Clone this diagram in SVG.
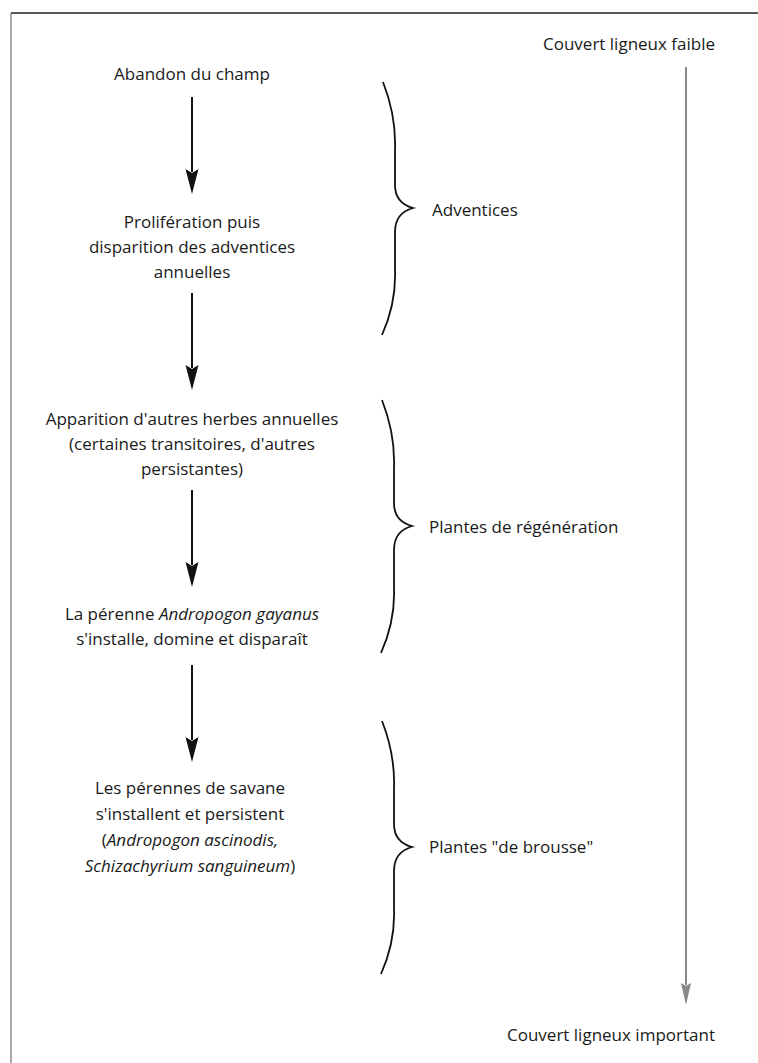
<svg xmlns="http://www.w3.org/2000/svg" xmlns:xlink="http://www.w3.org/1999/xlink" width="758" height="1063" viewBox="0 0 758 1063">
<style>
text{font-family:"Open Sans","Noto Sans","Liberation Sans",sans-serif;font-size:17px;fill:#1a1a1a}
.c{text-anchor:middle}
.i{font-style:italic}
.arr{stroke:#111;stroke-width:2;fill:none}
.brace{stroke:#111;stroke-width:1.8;fill:none}
.hd{fill:#111}
</style>
<defs>
<path id="br" d="M-30,-126 C-21,-103 -17,-83 -18,-58 L-18,-23 C-18,-10 -11,-3 0,0 C-11,3 -18,10 -18,24 L-18,62 C-17,87 -22,107 -31,127"/>
</defs>
<g id="frame">
<line x1="11" y1="13" x2="758" y2="13" stroke="#222" stroke-width="1.5"/>
<line x1="11" y1="13" x2="11" y2="1063" stroke="#555" stroke-width="1"/>
</g>
<g id="connectors">
<line class="arr" x1="192" y1="97" x2="192" y2="172"/>
<path class="hd" d="M185.5,169 L192,173 L198.5,169 L192,194 Z"/>
<line class="arr" x1="192" y1="293" x2="192" y2="368"/>
<path class="hd" d="M185.5,365 L192,369 L198.5,365 L192,390 Z"/>
<line class="arr" x1="192" y1="490" x2="192" y2="565"/>
<path class="hd" d="M185.5,562 L192,566 L198.5,562 L192,587 Z"/>
<line class="arr" x1="192" y1="665" x2="192" y2="740"/>
<path class="hd" d="M185.5,737 L192,741 L198.5,737 L192,762 Z"/>
<line x1="686" y1="67" x2="686" y2="985" stroke="#888" stroke-width="2"/>
<path d="M681,983 L686,986 L691,983 L686,1005 Z" fill="#888"/>
</g>
<g id="brace1"><use xlink:href="#br" href="#br" class="brace" transform="translate(413,208)"/></g>
<g id="brace2"><use xlink:href="#br" href="#br" class="brace" transform="translate(412,526)"/></g>
<g id="brace3"><use xlink:href="#br" href="#br" class="brace" transform="translate(412,847)"/></g>
<g id="n1"><text class="c" x="192" y="80">Abandon du champ</text></g>
<g id="n2"><text class="c" x="192" y="228">Prolifération puis</text><text class="c" x="192" y="253">disparition des adventices</text><text class="c" x="192" y="278">annuelles</text></g>
<g id="n3"><text class="c" x="192" y="425">Apparition d'autres herbes annuelles</text><text class="c" x="192" y="450">(certaines transitoires, d'autres</text><text class="c" x="192" y="475">persistantes)</text></g>
<g id="n4"><text class="c" x="192" y="620">La pérenne <tspan class="i">Andropogon gayanus</tspan></text><text class="c" x="192" y="645">s'installe, domine et disparaît</text></g>
<g id="n5"><text class="c" x="190" y="794">Les pérennes de savane</text><text class="c" x="190" y="820">s'installent et persistent</text><text class="c" x="190" y="846" font-size="18">(<tspan class="i">Andropogon ascinodis,</tspan></text><text class="c" x="190" y="872" font-size="18"><tspan class="i">Schizachyrium sanguineum</tspan>)</text></g>
<g id="l1"><text x="432" y="216">Adventices</text></g>
<g id="l2"><text x="429" y="533">Plantes de régénération</text></g>
<g id="l3"><text x="429" y="853">Plantes "de brousse"</text></g>
<g id="top"><text x="543" y="50">Couvert ligneux faible</text></g>
<g id="bottom"><text x="507" y="1041">Couvert ligneux important</text></g>
</svg>
